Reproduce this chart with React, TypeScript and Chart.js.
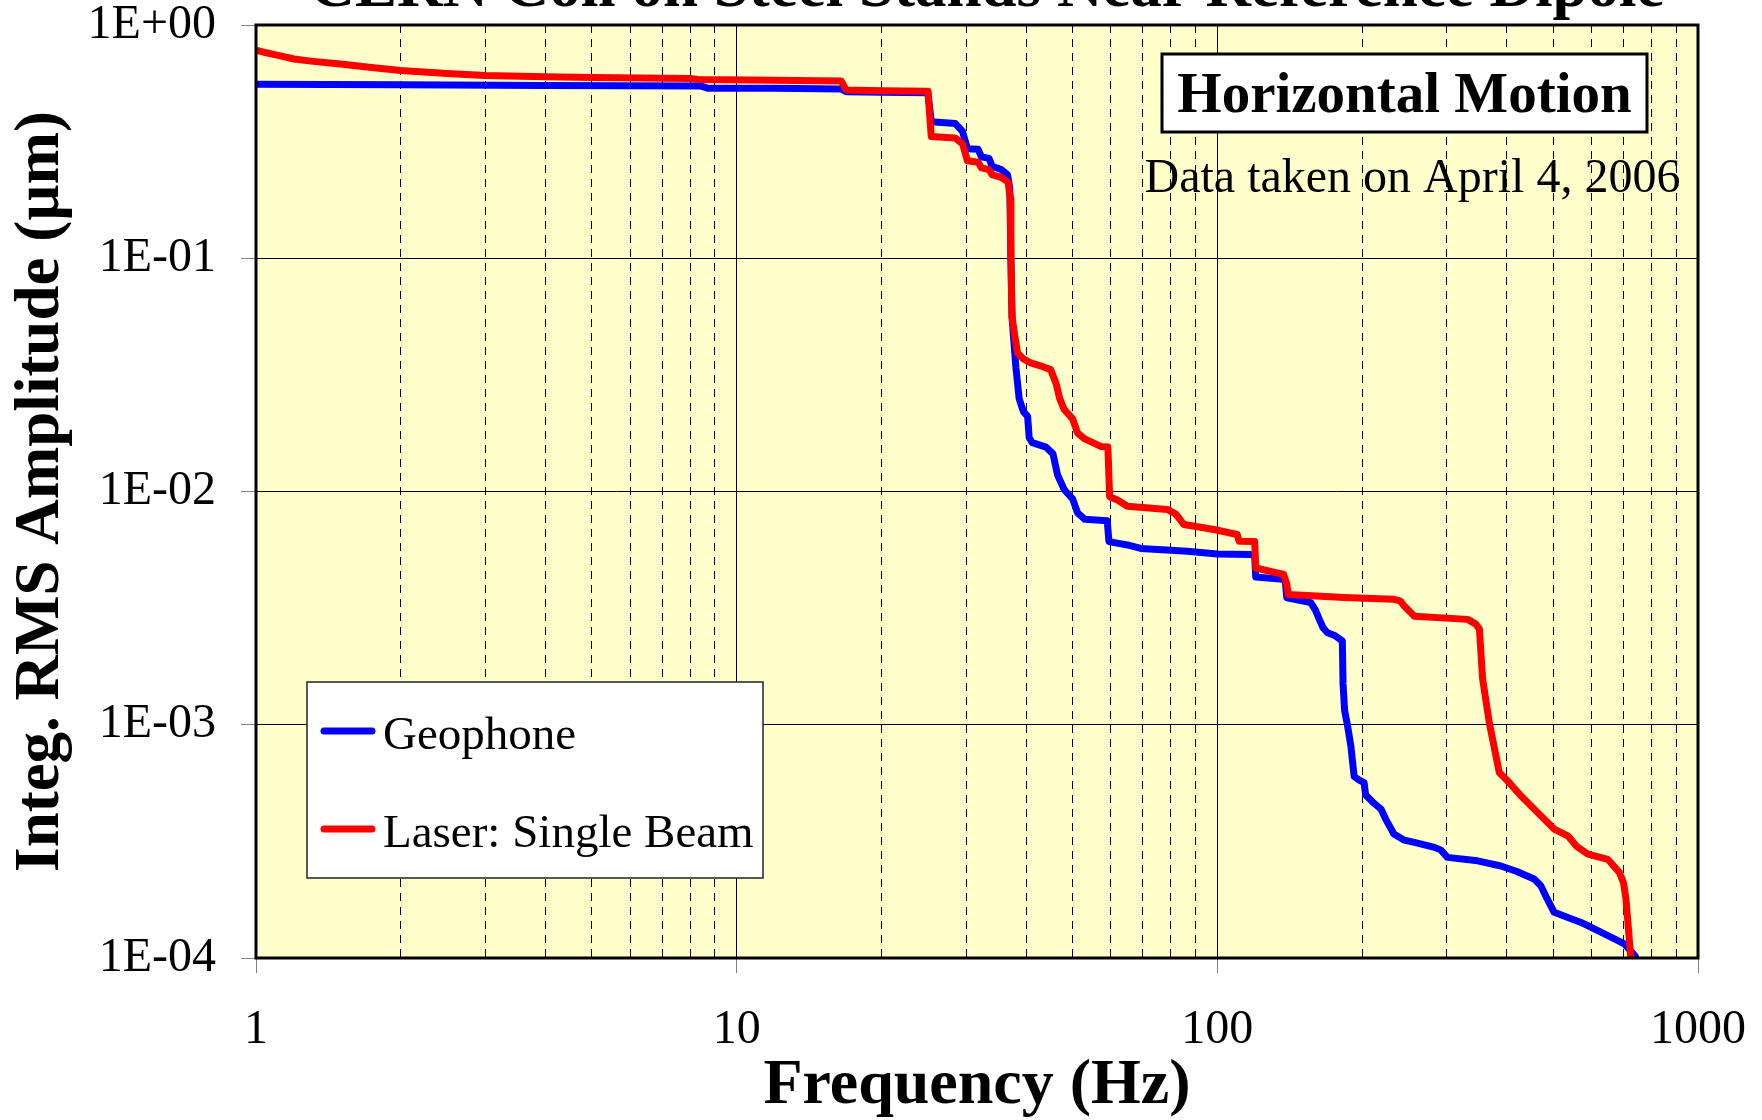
import React, { useEffect, useRef } from 'react';
import { Chart, registerables } from 'chart.js';

Chart.register(...registerables);

const FONT = '"Liberation Serif", "Times New Roman", serif';

const chartTitle = 'CERN Coil on Steel Stands Near Reference Dipole';
const xAxisTitle = 'Frequency (Hz)';
const yAxisTitle = 'Integ. RMS Amplitude (µm)';
const seriesNames = ['Geophone', 'Laser: Single Beam'];
const seriesColors = ['#0000FF', '#FF0000'];
const annotationTitle = 'Horizontal Motion';
const annotationNote = 'Data taken on April 4, 2006';

const xTickValues = [1, 10, 100, 1000];
const xMinorMultipliers = [2, 3, 4, 5, 6, 7, 8, 9];
const yTickValues = [1e-4, 1e-3, 1e-2, 1e-1, 1];

const geophoneFreq = [
  1, 2, 4, 8.4, 8.7, 12, 16.5, 16.9, 20, 25.0, 25.4, 28.5, 29.5, 30.2, 31.8, 32.3, 33.5, 34.0, 35.5, 36.6,
  37.0, 37.2, 37.4, 37.7, 38.1, 38.7, 39.5, 40.3, 40.6, 41.2, 44, 45.5, 46.5, 48, 50, 51.2, 53, 59, 59.5, 65,
  69.3, 80, 86.6, 100, 117.4, 119.6, 120.2, 137, 138.5, 139.5, 150, 156.5, 160, 163, 166, 169.5, 175, 182, 182.6, 184,
  186.6, 189.6, 192.6, 197, 202, 203.5, 212, 219, 224, 233, 245, 257, 283, 292, 301, 348, 389, 420, 456, 471,
  485, 502, 571, 628, 703, 740,
];
const geophoneAmp = [
  0.557, 0.554, 0.551, 0.548, 0.536, 0.535, 0.532, 0.517, 0.515, 0.512, 0.385, 0.378, 0.35, 0.295, 0.293, 0.272, 0.268, 0.248, 0.24, 0.228,
  0.2, 0.1, 0.056, 0.045, 0.034, 0.025, 0.022, 0.021, 0.017, 0.0162, 0.0155, 0.0145, 0.0118, 0.0102, 0.0093, 0.0081, 0.0076, 0.0075, 0.0061, 0.0059,
  0.0057, 0.0056, 0.00555, 0.0054, 0.00537, 0.0053, 0.0043, 0.0042, 0.0041, 0.0035, 0.0034, 0.00334, 0.0031, 0.00283, 0.0026, 0.00248, 0.00242, 0.00229, 0.0015, 0.00115,
  0.00099, 0.00081, 0.0006, 0.00058, 0.000565, 0.0005, 0.00046, 0.000435, 0.000394, 0.00034, 0.00032, 0.000313, 0.000298, 0.00029, 0.00027, 0.000261, 0.000248, 0.000235, 0.000218, 0.000204,
  0.00018, 0.000157, 0.000142, 0.000129, 0.000115, 0.000102,
];

const laserFreq = [
  1, 1.05, 1.1, 1.2, 1.3, 1.5, 1.7, 2, 2.5, 3, 4, 5, 8.0, 8.3, 12, 16.5, 16.9, 20, 25.0, 25.4, 28.5, 29.5, 30.2, 31.8, 32.3,
  33.5, 34.0, 35.5, 36.7, 37.1, 37.2, 37.4, 38.0, 38.4, 39.5, 40.9, 43, 45, 46.2, 47, 48, 50, 51.2, 53, 57.2,
  59.2, 59.7, 62, 65, 78.7, 82, 85.2, 98.4, 110, 111, 119.6, 120.2, 137.4, 139.5, 140.5, 183.6, 233, 240, 244.8, 257,
  331.7, 345, 351, 356.4, 368, 386, 400, 428, 464, 502, 536, 560, 590, 649, 686, 700, 708, 725,
];
const laserAmp = [
  0.78, 0.76, 0.745, 0.715, 0.70, 0.68, 0.66, 0.638, 0.62, 0.608, 0.60, 0.595, 0.59, 0.584, 0.58, 0.575, 0.527, 0.522, 0.52, 0.333, 0.328, 0.31, 0.262, 0.258, 0.244,
  0.24, 0.228, 0.222, 0.212, 0.18, 0.1, 0.056, 0.045, 0.0393, 0.037, 0.0356, 0.0345, 0.0333, 0.029, 0.025, 0.0225, 0.0205, 0.0178, 0.0168, 0.0156,
  0.0155, 0.0095, 0.0092, 0.00865, 0.00838, 0.008, 0.00722, 0.00687, 0.00654, 0.00612, 0.0061, 0.0047, 0.00441, 0.004, 0.00362, 0.00351, 0.00345, 0.0034, 0.00323, 0.00292,
  0.00283, 0.0027, 0.00257, 0.00157, 0.00102, 0.000624, 0.00058, 0.000496, 0.00042, 0.000357, 0.000334, 0.0003, 0.000279, 0.000265, 0.000233, 0.00021, 0.00018, 0.0001,
];

const toPoints = (xs: number[], ys: number[]) => xs.map((x, i) => ({ x, y: ys[i] }));

const isXMajor = (v: number) => xTickValues.some((t) => Math.abs(t - v) < 1e-9 * t);

const xGridValues: number[] = (() => {
  const out: number[] = [];
  for (let d = 0; d < xTickValues.length - 1; d++) {
    out.push(xTickValues[d]);
    for (const m of xMinorMultipliers) out.push(m * xTickValues[d]);
  }
  out.push(xTickValues[xTickValues.length - 1]);
  return out;
})();

const formatExp = (v: number) => {
  const e = Math.round(Math.log10(v));
  return '1E' + (e < 0 ? '-' : '+') + String(Math.abs(e)).padStart(2, '0');
};

const zeroPadding = (s: any) => {
  s.paddingTop = 0;
  s.paddingBottom = 0;
  s.paddingLeft = 0;
  s.paddingRight = 0;
};

const decorPlugin = {
  id: 'decor',
  beforeDraw(chart: any) {
    const { ctx, chartArea: ca } = chart;
    ctx.save();
    ctx.fillStyle = '#FFFFCC';
    ctx.fillRect(ca.left, ca.top, ca.right - ca.left, ca.bottom - ca.top);
    ctx.restore();
  },
  afterDraw(chart: any) {
    const { ctx, chartArea: ca } = chart;
    ctx.save();
    // plot border
    ctx.strokeStyle = '#000';
    ctx.lineWidth = 3;
    ctx.strokeRect(ca.left, ca.top, ca.right - ca.left, ca.bottom - ca.top);

    // chart title (cropped at the top)
    ctx.fillStyle = '#000';
    ctx.font = `bold 63px ${FONT}`;
    ctx.textAlign = 'center';
    ctx.textBaseline = 'alphabetic';
    ctx.fillText(chartTitle, (ca.left + ca.right) / 2 + 10, ca.top - 19);

    // annotation box
    const bx = ca.left + 906;
    const by = ca.top + 29;
    const bw = 485;
    const bh = 78;
    ctx.fillStyle = '#FFFFFF';
    ctx.fillRect(bx, by, bw, bh);
    ctx.lineWidth = 3;
    ctx.strokeStyle = '#000';
    ctx.strokeRect(bx, by, bw, bh);
    ctx.fillStyle = '#000';
    ctx.font = `bold 57px ${FONT}`;
    ctx.textAlign = 'center';
    ctx.fillText(annotationTitle, bx + bw / 2, by + 58);
    ctx.font = `48px ${FONT}`;
    ctx.fillText(annotationNote, bx + bw / 2 + 8, ca.top + 167);

    // legend
    const lx = ca.left + 51;
    const ly = ca.top + 657;
    const lw = 456;
    const lh = 196;
    ctx.fillStyle = '#FFFFFF';
    ctx.fillRect(lx, ly, lw, lh);
    ctx.lineWidth = 1.5;
    ctx.strokeStyle = '#222';
    ctx.strokeRect(lx, ly, lw, lh);
    const rows = [ly + 49, ly + 147];
    seriesNames.forEach((name, i) => {
      ctx.strokeStyle = seriesColors[i];
      ctx.lineWidth = 7;
      ctx.lineCap = 'round';
      ctx.beginPath();
      ctx.moveTo(lx + 17, rows[i]);
      ctx.lineTo(lx + 65, rows[i]);
      ctx.stroke();
      ctx.fillStyle = '#000';
      ctx.font = `47px ${FONT}`;
      ctx.textAlign = 'left';
      ctx.textBaseline = 'alphabetic';
      ctx.fillText(name, lx + 76, rows[i] + 18);
    });
    ctx.restore();
  },
};

export default function App() {
  const canvasRef = useRef<HTMLCanvasElement | null>(null);

  useEffect(() => {
    document.body.style.margin = '0';
    document.body.style.overflow = 'hidden';
    const canvas = canvasRef.current;
    if (!canvas) return;
    const chart = new Chart(canvas, {
      type: 'line',
      data: {
        datasets: [
          {
            label: seriesNames[0],
            data: toPoints(geophoneFreq, geophoneAmp),
            borderColor: seriesColors[0],
            backgroundColor: seriesColors[0],
            borderWidth: 7,
            pointRadius: 0,
            tension: 0,
            order: 1,
          },
          {
            label: seriesNames[1],
            data: toPoints(laserFreq, laserAmp),
            borderColor: seriesColors[1],
            backgroundColor: seriesColors[1],
            borderWidth: 7,
            pointRadius: 0,
            tension: 0,
            order: 0,
          },
        ],
      },
      options: {
        animation: false,
        responsive: false,
        devicePixelRatio: 1,
        layout: { padding: { left: 0, top: 25, right: 64, bottom: 0 } },
        elements: { line: { borderJoinStyle: 'round', borderCapStyle: 'round' } },
        plugins: {
          legend: { display: false },
          title: { display: false },
          tooltip: { enabled: false },
        },
        scales: {
          x: {
            type: 'logarithmic',
            position: 'bottom',
            min: 1,
            max: 1000,
            afterFit: (s: any) => {
              s.height = 162;
              zeroPadding(s);
            },
            afterBuildTicks: (s: any) => {
              s.ticks = xGridValues.map((v) => ({ value: v, major: isXMajor(v) }));
            },
            ticks: {
              autoSkip: false,
              maxRotation: 0,
              padding: 33,
              color: '#000',
              font: { family: FONT, size: 48, lineHeight: 1 },
              callback: (v: any) => (isXMajor(Number(v)) ? String(Number(v)) : ''),
            },
            grid: {
              color: '#000',
              lineWidth: 1,
              tickLength: 15,
              tickWidth: 1,
              tickColor: (ctx: any) => (ctx.tick && isXMajor(ctx.tick.value) ? '#808080' : 'rgba(0,0,0,0)'),
            },
            border: {
              display: false,
              dash: (ctx: any) => (ctx.tick && !isXMajor(ctx.tick.value) ? [8, 6] : []),
            },
            title: {
              display: true,
              text: xAxisTitle,
              color: '#000',
              font: { family: FONT, size: 64, weight: 'bold', lineHeight: 1 },
              padding: { top: 0, bottom: 2 },
            },
          },
          y: {
            type: 'logarithmic',
            min: 1e-4,
            max: 1,
            afterFit: (s: any) => {
              s.width = 256;
              zeroPadding(s);
            },
            afterBuildTicks: (s: any) => {
              s.ticks = yTickValues.map((v) => ({ value: v, major: true }));
            },
            ticks: {
              autoSkip: false,
              padding: 25,
              color: '#000',
              font: { family: FONT, size: 48, lineHeight: 1 },
              callback: (v: any) => formatExp(Number(v)),
            },
            grid: {
              color: '#000',
              lineWidth: 1,
              tickLength: 15,
              tickWidth: 1,
              tickColor: '#808080',
            },
            border: { display: false },
            title: {
              display: true,
              text: yAxisTitle,
              color: '#000',
              font: { family: FONT, size: 63, weight: 'bold', lineHeight: 1 },
              padding: { top: 10, bottom: 0 },
            },
          },
        },
      },
      plugins: [decorPlugin],
    } as any);
    return () => chart.destroy();
  }, []);

  return (
    <div style={{ width: 1762, height: 1120, position: 'relative', overflow: 'hidden', background: '#FFFFFF' }}>
      <canvas ref={canvasRef} width={1762} height={1120} style={{ display: 'block', width: 1762, height: 1120 }} />
    </div>
  );
}
